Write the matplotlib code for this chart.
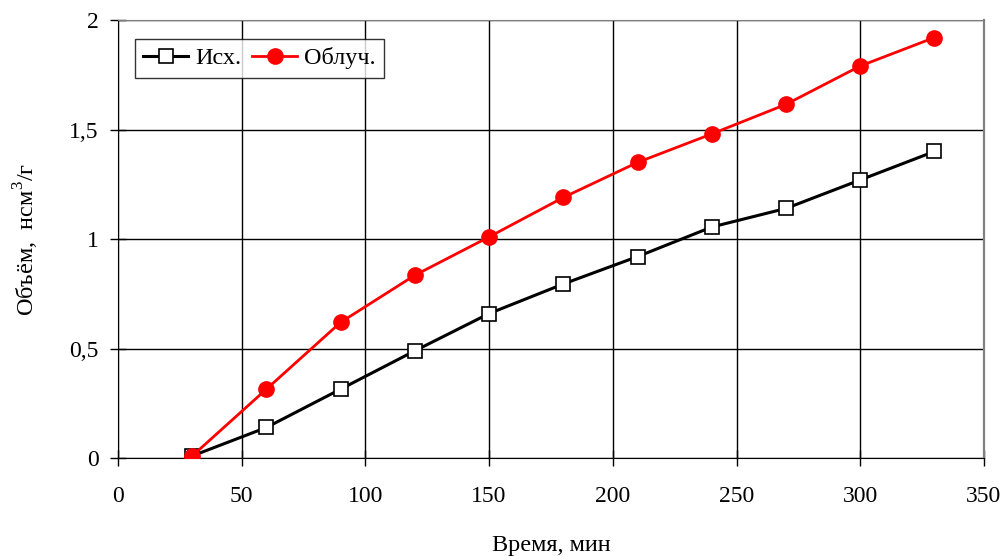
import matplotlib
matplotlib.use('Agg')
import matplotlib.pyplot as plt

# данные
time_min = [30, 60, 90, 120, 150, 180, 210, 240, 270, 300, 330]
vol_initial = [0.01, 0.14, 0.315, 0.49, 0.66, 0.795, 0.92, 1.055, 1.14, 1.27, 1.40]
vol_irradiated = [0.01, 0.315, 0.62, 0.835, 1.01, 1.19, 1.35, 1.48, 1.615, 1.79, 1.92]

plt.rcParams['font.family'] = ['Liberation Serif', 'DejaVu Serif']
plt.rcParams['mathtext.fontset'] = 'custom'
plt.rcParams['mathtext.rm'] = 'Liberation Serif'
plt.rcParams['font.size'] = 17

fig = plt.figure(figsize=(10.04, 5.56), dpi=100)
ax = fig.add_axes([0.1175, 0.176, 0.8625, 0.788])

ax.plot(time_min, vol_initial, color='black', lw=2.2, marker='s', ms=10,
        mfc='white', mec='black', mew=1.2, label='Исх.', zorder=3)
ax.plot(time_min, vol_irradiated, color='#ff0000', lw=2, marker='o', ms=11,
        mfc='#ff0000', mec='#ff0000', label='Облуч.', zorder=4)

ax.set_xlim(0, 350)
ax.set_ylim(0, 2)
ax.set_xticks(range(0, 351, 50))
ax.set_yticks([0, 0.5, 1, 1.5, 2])
ax.set_yticklabels(['0', '0,5', '1', '1,5', '2'])
ax.grid(True, color='black', lw=1)
ax.set_axisbelow(True)
ax.tick_params(direction='inout', length=12, width=1, labelsize=17)
ax.tick_params(axis='x', pad=14)
ax.tick_params(axis='y', pad=8)

ax.spines['top'].set_color('#808080')
ax.spines['right'].set_color('#808080')
ax.spines['right'].set_linewidth(1.6)
for s in ['left', 'bottom']:
    ax.spines[s].set_color('black')

ax.set_xlabel('Время, мин', fontsize=17.5, labelpad=20)
ax.set_ylabel('Объём,  нсм$^\\mathrm{3}$/г', fontsize=17.5, labelpad=20)

leg = ax.legend(loc='upper left', bbox_to_anchor=(0.0196, 0.957), borderaxespad=0,
                ncol=2, frameon=True, fancybox=False, edgecolor='black',
                handlelength=1.85, columnspacing=0.45, handletextpad=0.28,
                borderpad=0.35, fontsize=17.5)
leg.get_frame().set_linewidth(1)

fig.savefig('out.png', dpi=100)
